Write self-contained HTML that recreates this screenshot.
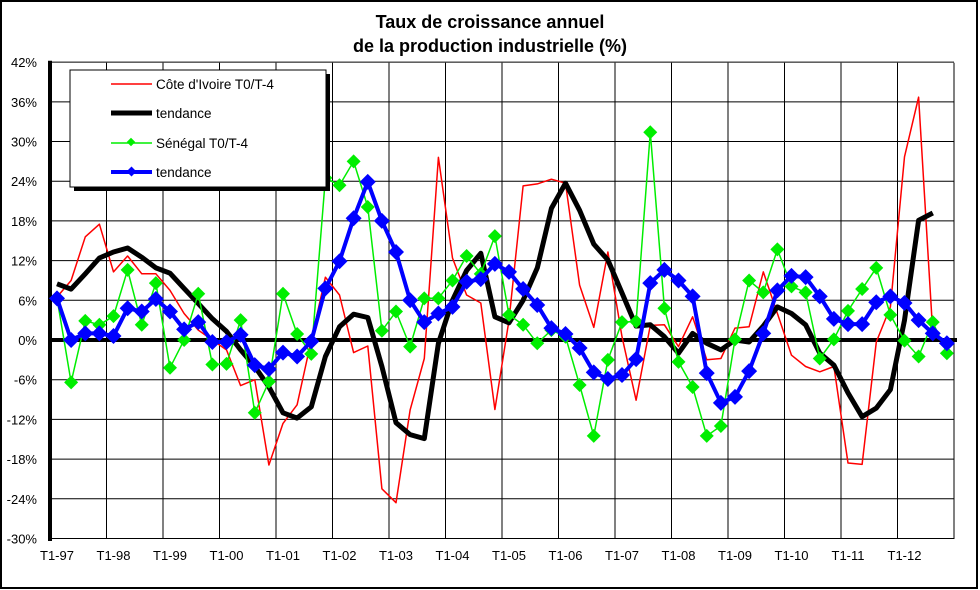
<!DOCTYPE html>
<html><head><meta charset="utf-8"><style>
html,body{margin:0;padding:0;background:#fff;}
svg{display:block;font-family:"Liberation Sans",Arial,sans-serif;}
</style></head><body>
<svg id="s" width="980" height="590" viewBox="0 0 980 590" xmlns="http://www.w3.org/2000/svg">
<rect x="1" y="1" width="976" height="587" fill="#fff" stroke="#000" stroke-width="2"/>
<text x="490" y="28" text-anchor="middle" font-size="18" font-weight="bold">Taux de croissance annuel</text>
<text x="490" y="52" text-anchor="middle" font-size="18" font-weight="bold">de la production industrielle (%)</text>
<g id="grid"></g>
<g id="series"></g>
<g id="legend">
<rect x="74" y="74" width="256" height="117" fill="#000"/>
<rect x="70" y="70" width="256" height="117" fill="#fff" stroke="#000" stroke-width="1"/>
<line x1="111" y1="84" x2="152" y2="84" stroke="#ff0000" stroke-width="1.5"/>
<text x="156" y="89" font-size="13.5">Côte d'Ivoire T0/T-4</text>
<line x1="111" y1="113" x2="152" y2="113" stroke="#000" stroke-width="5"/>
<text x="156" y="118" font-size="13.5">tendance</text>
<line x1="111" y1="143" x2="152" y2="143" stroke="#00ee00" stroke-width="1.5"/>
<rect x="128" y="139" width="6" height="6" fill="#00ee00" transform="rotate(45 131 142)"/>
<text x="156" y="148" font-size="13.5">Sénégal T0/T-4</text>
<line x1="111" y1="172" x2="152" y2="172" stroke="#0000ff" stroke-width="4"/>
<rect x="128" y="168" width="7" height="7" fill="#0000ff" transform="rotate(45 131.5 171.5)"/>
<text x="156" y="177" font-size="13.5">tendance</text>
</g>
</svg>
<script>
const NS="http://www.w3.org/2000/svg";
const L=50,R=954,T=62.7,B=539;
const yv=v=>340-v*(B-T)/72;
const xi=i=>57+14.125*i;
function el(p,t,a){const e=document.createElementNS(NS,t);for(const k in a)e.setAttribute(k,a[k]);p.appendChild(e);return e;}
const g=document.getElementById('grid'),s=document.getElementById('series');
for(let k=0;k<=12;k++){const v=42-6*k,y=yv(v);
 el(g,'line',{x1:L,y1:y,x2:R,y2:y,stroke:'#000','stroke-width':1});
 const t=el(g,'text',{x:37,y:y+5,'text-anchor':'end','font-size':13});t.textContent=v+'%';}
for(let k=0;k<=16;k++){const x=L+k*(R-L)/16;el(g,'line',{x1:x,y1:T,x2:x,y2:B,stroke:'#000','stroke-width':1});
 if(k<16){const t=el(g,'text',{x:xi(k*4),y:560,'text-anchor':'middle','font-size':13});t.textContent='T1-'+String((97+k)%100).padStart(2,'0');}}
el(g,'line',{x1:L,y1:T-2,x2:L,y2:B+2,stroke:'#000','stroke-width':4});
el(g,'line',{x1:L,y1:340,x2:R+3,y2:340,stroke:'#000','stroke-width':4});
const red=[6.5,9,15.6,17.5,10.3,12.7,10,10,7.5,4,1.5,0,-1.5,-6.9,-6,-18.9,-12.6,-9.8,0,9.5,6.8,-1.9,-0.9,-22.5,-24.6,-10.6,-2.8,27.6,12.4,6.8,5.6,-10.5,3,23.3,23.6,24.3,23.7,8.3,1.9,13.3,0.5,-9.1,2.2,2.3,-1,3.5,-3,-2.8,1.8,2,10.3,4,-2.3,-4,-4.8,-4,-18.6,-18.8,-0.3,5,27.7,36.7,1];
const blk=[8.5,7.7,10,12.4,13.3,13.9,12.5,10.9,10.1,7.8,5.5,3.2,1.3,-1.5,-4,-7.1,-11,-11.8,-10.1,-2.5,2,3.9,3.4,-4,-12.5,-14.3,-14.9,-0.5,6,10.5,13.1,3.5,2.6,6,10.9,19.9,23.7,19.6,14.5,12.1,7.1,2.1,2.3,0.5,-2,1,-0.5,-1.5,0,-0.3,2.1,5,4,2.3,-2,-3.8,-8,-11.6,-10.3,-7.5,3,18.1,19.2];
const grn=[6.3,-6.4,2.9,2.3,3.6,10.6,2.3,8.6,-4.2,0,7,-3.7,-3.6,3,-11,-6.3,7,0.9,-2.1,24.5,23.4,27,20.1,1.4,4.3,-1,6.3,6.3,9,12.7,10,15.7,3.8,2.3,-0.5,1.5,0.5,-6.8,-14.5,-3,2.7,2.8,31.4,4.8,-3.3,-7.1,-14.5,-13,0.1,9,7.2,13.7,8.1,7.2,-2.8,0.1,4.4,7.7,10.9,3.8,-0.1,-2.5,2.7,-2];
const blu=[6.3,0,1,1,0.6,4.8,4.3,6.2,4.3,1.6,2.7,-0.3,-0.3,0.8,-3.8,-4.4,-1.9,-2.5,-0.2,7.8,11.9,18.4,23.9,18,13.3,6,2.7,4,5,8.8,9.2,11.5,10.3,7.7,5.3,1.8,0.9,-1.2,-4.9,-5.9,-5.3,-2.9,8.6,10.6,9,6.6,-5,-9.5,-8.6,-4.7,1,7.5,9.7,9.5,6.6,3.2,2.4,2.4,5.7,6.6,5.6,3,1,-0.5];
function pts(a){return a.map((v,i)=>xi(i).toFixed(1)+','+yv(v).toFixed(1)).join(' ');}
el(s,'polyline',{points:pts(red),fill:'none',stroke:'#ff0000','stroke-width':1.5,'stroke-linejoin':'round'});
el(s,'polyline',{points:pts(blk),fill:'none',stroke:'#000','stroke-width':5,'stroke-linejoin':'round'});
el(s,'polyline',{points:pts(grn),fill:'none',stroke:'#00ee00','stroke-width':1.5});
grn.forEach((v,i)=>{const x=xi(i),y=yv(v);el(s,'polygon',{points:`${x},${y-7} ${x+7},${y} ${x},${y+7} ${x-7},${y}`,fill:'#00ee00'});});
el(s,'polyline',{points:pts(blu),fill:'none',stroke:'#0000ff','stroke-width':4,'stroke-linejoin':'round'});
blu.forEach((v,i)=>{const x=xi(i),y=yv(v);el(s,'polygon',{points:`${x},${y-8} ${x+8},${y} ${x},${y+8} ${x-8},${y}`,fill:'#0000ff'});});
</script>
</body></html>
